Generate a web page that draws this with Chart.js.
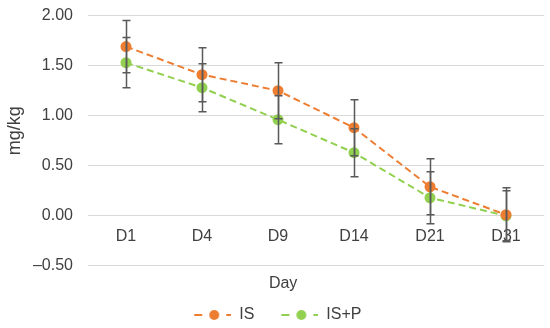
<!DOCTYPE html>
<html>
<head>
<meta charset="utf-8">
<script src="https://cdn.jsdelivr.net/npm/chart.js@4/dist/chart.umd.min.js"></script>
<style>
    html, body { margin: 0; padding: 0; background: #fff; }
    #wrap { width: 550px; height: 328px; }
</style>
</head>
<body>
<div id="wrap"><canvas id="chart"></canvas></div>
<script>
// ─── Data ───
const DAYS = ['D1', 'D4', 'D9', 'D14', 'D21', 'D31'];

const IS_VALUES = [1.69, 1.41, 1.25, 0.88, 0.29, 0.01];
const IS_ERRORS = [0.26, 0.27, 0.28, 0.28, 0.28, 0.27];

const ISP_VALUES = [1.53, 1.28, 0.96, 0.63, 0.18, 0.00];
const ISP_ERRORS = [0.25, 0.24, 0.24, 0.24, 0.26, 0.25];

const Y_TICKS = { min: -0.5, max: 2.0, step: 0.5 };

const ORANGE = '#ED7D31';
const GREEN = '#92D050';
const TEXT = '#404040';
const FONT = 'Liberation Sans, Arial, sans-serif';

/**
 * Legend glyph: "- ● -" drawn into a small canvas
 */
function legendGlyph(color) {
    const c = document.createElement('canvas');
    c.width = 62;
    c.height = 12;
    const g = c.getContext('2d');
    const x0 = 25;
    g.fillStyle = color;
    g.fillRect(x0, 5, 8, 2);
    g.fillRect(x0 + 32, 5, 8, 2);
    g.beginPath();
    g.arc(x0 + 20, 6, 5, 0, Math.PI * 2);
    g.fill();
    return c;
}

// Draw vertical error bars with caps for every point
const errorBars = {
    id: 'errorBars',
    afterDatasetsDraw(chart) {
        const { ctx, scales: { y } } = chart;
        ctx.save();
        ctx.strokeStyle = '#595959';
        ctx.lineWidth = 1.5;
        chart.data.datasets.forEach((ds, i) => {
            const meta = chart.getDatasetMeta(i);
            meta.data.forEach((pt, j) => {
                const v = ds.data[j];
                const e = ds.errors[j];
                const top = y.getPixelForValue(v + e);
                const bot = y.getPixelForValue(v - e);
                const x = Math.round(pt.x) + 0.5;
                ctx.beginPath();
                ctx.moveTo(x, top);
                ctx.lineTo(x, bot);
                ctx.moveTo(x - 4, top);
                ctx.lineTo(x + 4, top);
                ctx.moveTo(x - 4, bot);
                ctx.lineTo(x + 4, bot);
                ctx.stroke();
            });
        });
        ctx.restore();
    }
};

function fmtTick(v) {
    const s = Math.abs(v).toFixed(2);
    return v < 0 ? '\u2013' + s : s;
}

const glyphs = { IS: legendGlyph(ORANGE), 'IS+P': legendGlyph(GREEN) };

new Chart(document.getElementById('chart'), {
    type: 'line',
    data: {
        labels: DAYS,
        datasets: [
            {
                label: 'IS',
                data: IS_VALUES,
                errors: IS_ERRORS,
                borderColor: ORANGE,
                backgroundColor: ORANGE,
                pointBackgroundColor: ORANGE,
                pointBorderColor: ORANGE,
                borderDash: [7, 4],
                borderWidth: 2,
                pointRadius: 5.5,
                pointBorderWidth: 0
            },
            {
                label: 'IS+P',
                data: ISP_VALUES,
                errors: ISP_ERRORS,
                borderColor: GREEN,
                backgroundColor: GREEN,
                pointBackgroundColor: GREEN,
                pointBorderColor: GREEN,
                borderDash: [7, 4],
                borderWidth: 2,
                pointRadius: 5.5,
                pointBorderWidth: 0
            }
        ]
    },
    options: {
        responsive: true,
        maintainAspectRatio: false,
        animation: false,
        layout: { padding: { top: 1, right: 6, bottom: -5, left: 0 } },
        plugins: {
            tooltip: { enabled: false },
            title: {
                display: true,
                // leading spaces nudge the title right, like the original
                text: '     Day',
                position: 'bottom',
                weight: 500,
                color: TEXT,
                font: { family: FONT, size: 16, weight: 'normal' },
                padding: { top: 8, bottom: 12 }
            },
            legend: {
                position: 'bottom',
                labels: {
                    color: TEXT,
                    font: { family: FONT, size: 16 },
                    usePointStyle: true,
                    pointStyleWidth: 62,
                    padding: 2,
                    generateLabels(chart) {
                        return chart.data.datasets.map((ds, i) => ({
                            // trailing spaces on the last item pull the row left
                            text: i === chart.data.datasets.length - 1 ? ds.label + '   ' : ds.label,
                            fontColor: TEXT,
                            pointStyle: glyphs[ds.label],
                            datasetIndex: i,
                            hidden: false,
                            lineWidth: 0
                        }));
                    }
                }
            }
        },
        scales: {
            x: {
                position: { y: 0 },
                offset: true,
                grid: { display: false, drawTicks: false },
                border: { display: false },
                ticks: {
                    color: TEXT,
                    font: { family: FONT, size: 16 },
                    padding: 11,
                    maxRotation: 0
                }
            },
            y: {
                min: Y_TICKS.min,
                max: Y_TICKS.max,
                afterFit(scale) { scale.width = 88; },
                grid: {
                    color: '#D9D9D9',
                    lineWidth: 1,
                    drawTicks: true,
                    tickLength: 9,
                    tickColor: 'rgba(0,0,0,0)'
                },
                border: { display: false },
                ticks: {
                    stepSize: Y_TICKS.step,
                    color: TEXT,
                    font: { family: FONT, size: 16 },
                    padding: 6,
                    callback: fmtTick
                },
                title: {
                    display: true,
                    // leading spaces lift the rotated title a little
                    text: '    mg/kg',
                    color: TEXT,
                    font: { family: FONT, size: 18 },
                    padding: { top: 4, bottom: 4 }
                }
            }
        }
    },
    plugins: [errorBars]
});
</script>
</body>
</html>
